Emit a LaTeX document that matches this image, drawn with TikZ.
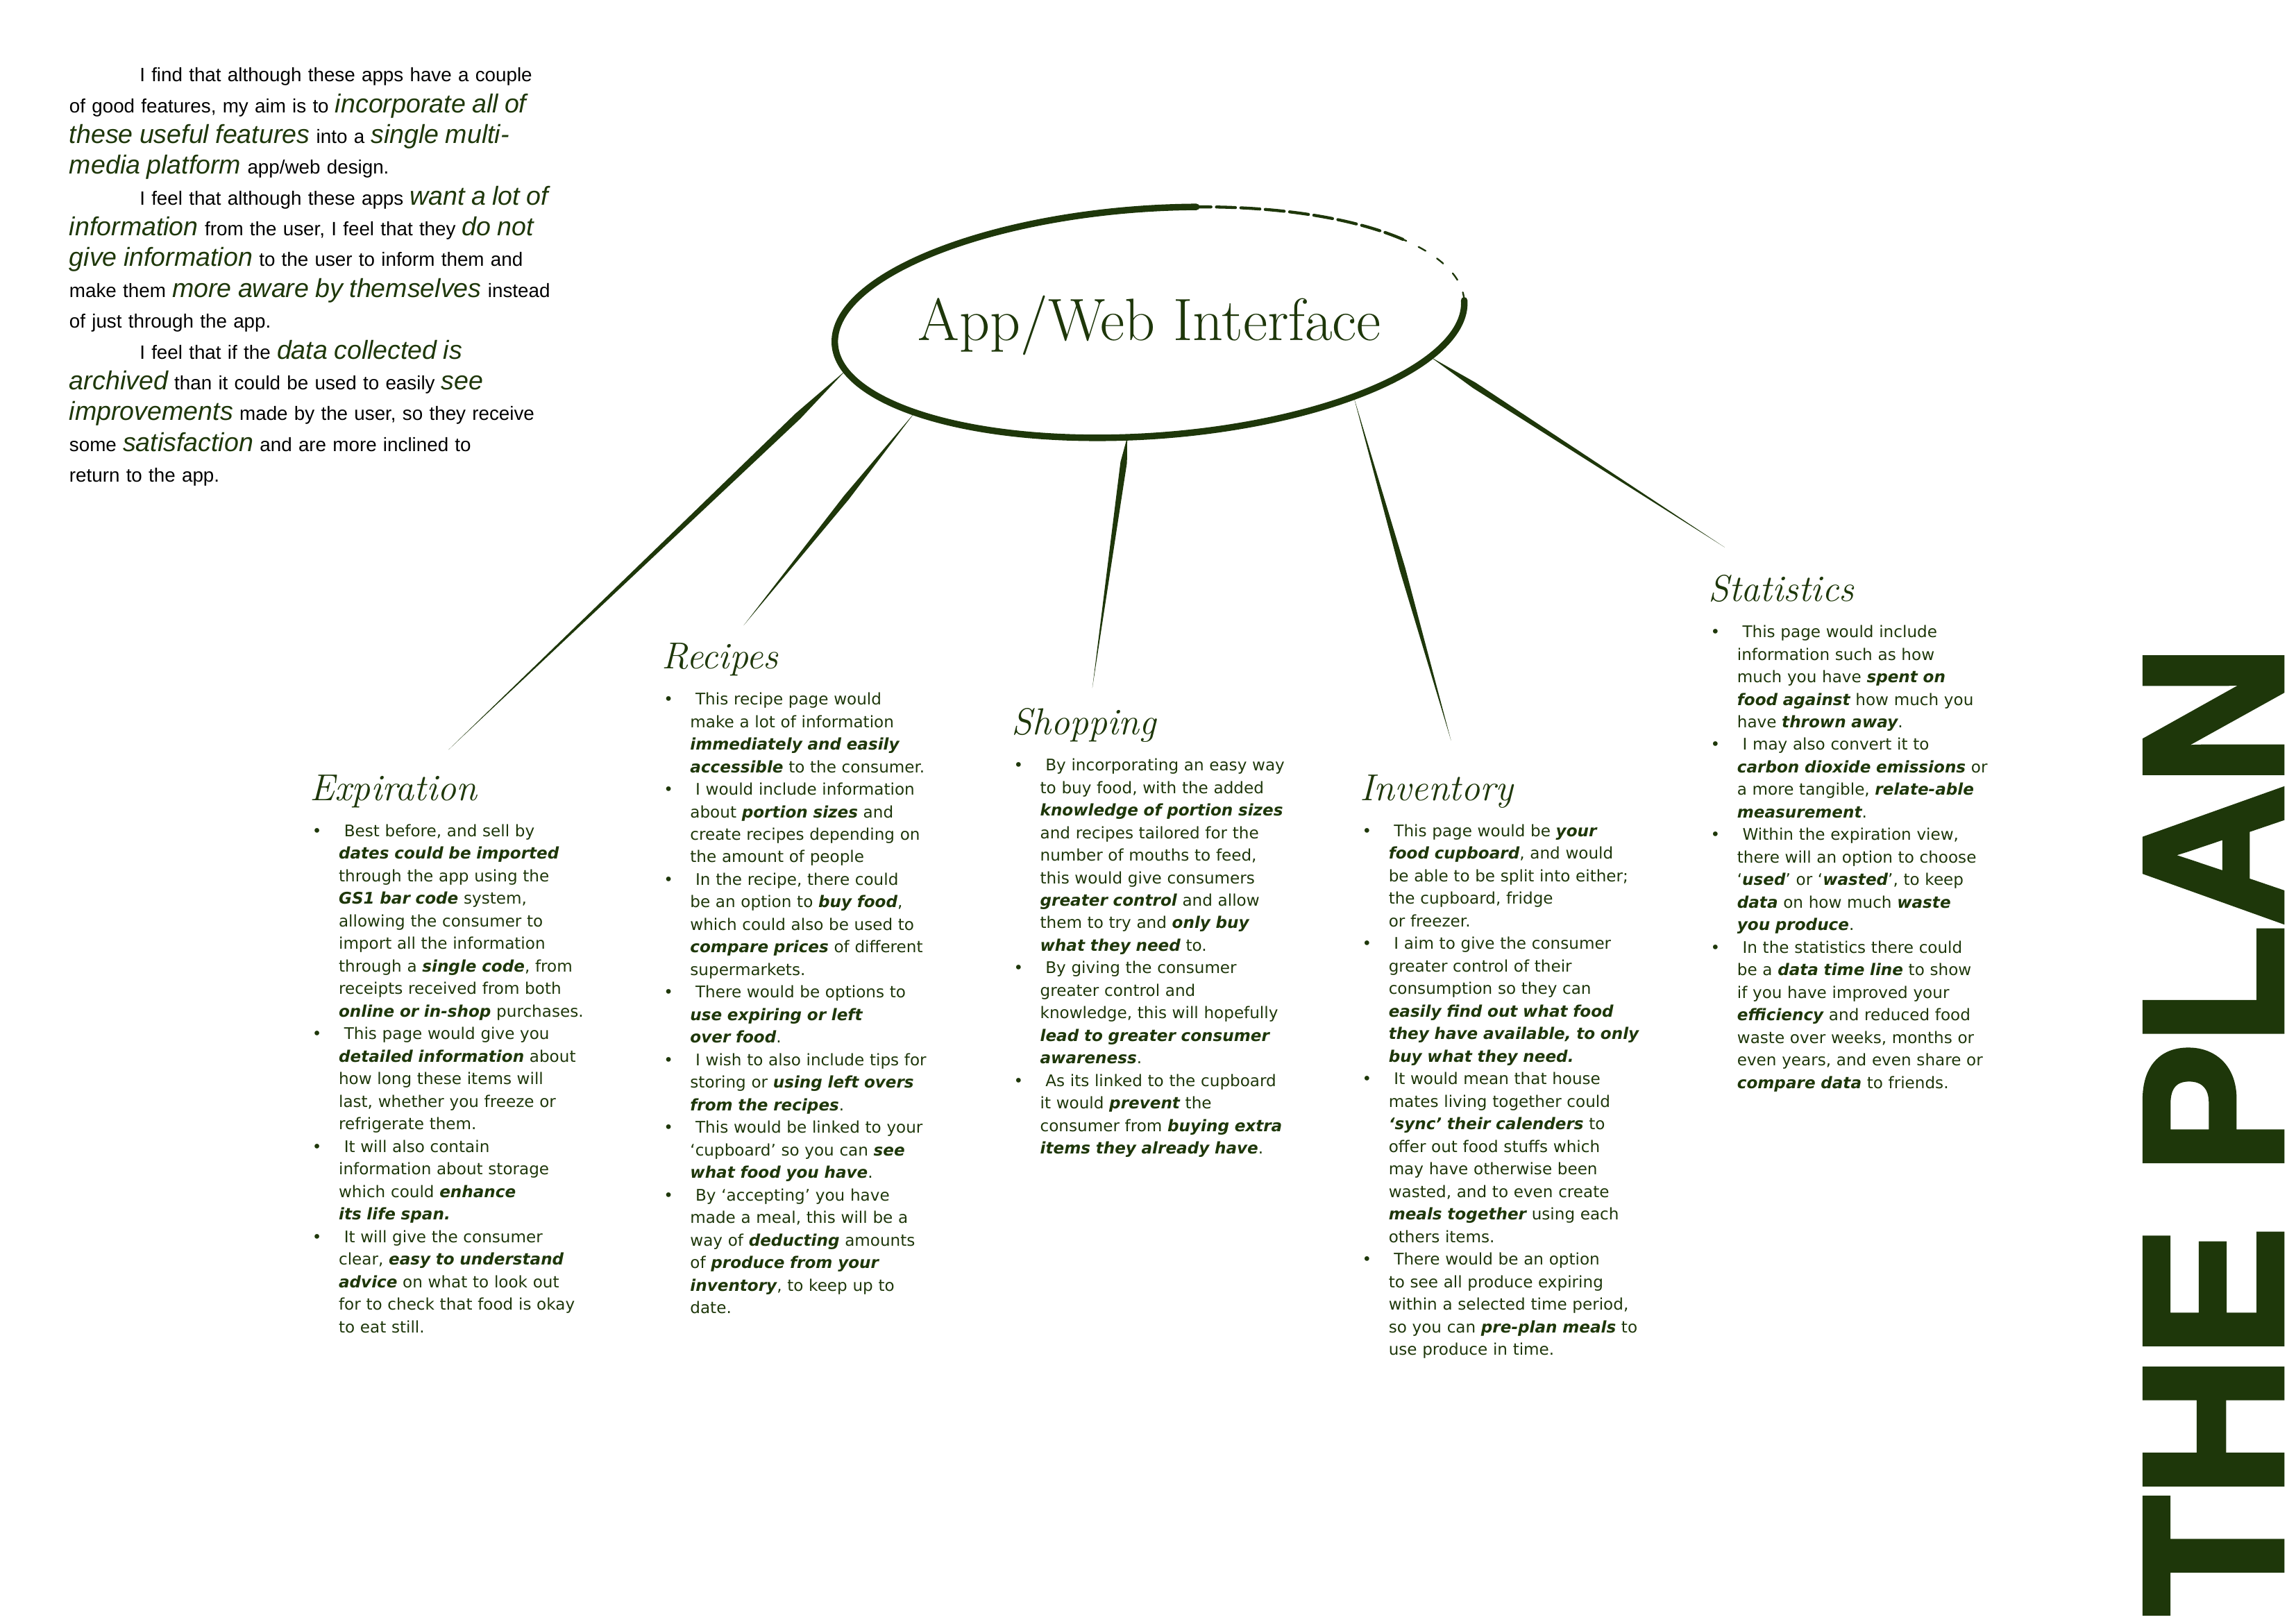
\documentclass[tikz,border=0pt]{standalone}
\usepackage{fontspec}
\usepackage{xcolor}
\usepackage{tikz}
\usetikzlibrary{shapes.geometric, positioning, calc}
\newfontfamily\notefont{Liberation Sans}
\newfontfamily\colfont{DejaVu Sans}
\newfontfamily\planfont[FakeBold=3]{Liberation Sans Bold}
\definecolor{plangreen}{RGB}{30,55,10}
\newcommand{\hi}[1]{{\fontsize{9.6}{11.33}\selectfont\itshape\color{plangreen}#1}}
\newcommand{\kw}[1]{{\bfseries\itshape #1}}
\newcommand{\bl}{\leavevmode\llap{\textbullet\hspace{0.22cm}}\ }
\newcommand{\spoke}[4]{\fill[plangreen] (#1) -- ($(#1)!#3!(#2)!#4!90:(#2)$) -- (#2) -- ($(#1)!#3!(#2)!#4!-90:(#2)$) -- cycle;}
\tikzstyle{introtxt} = [anchor=north west, inner sep=0, text width=7cm, align=left, font=\notefont\fontsize{7.1}{11.33}\selectfont]
\tikzstyle{colbody} = [anchor=north west, inner sep=0, text width=4cm, align=left, text=plangreen, font=\colfont\fontsize{5.9}{8.3}\selectfont]
\tikzstyle{colhead} = [inner sep=0, xshift=-0.37cm, text=plangreen, font=\fontsize{13.8}{16}\selectfont\itshape]
\tikzstyle{hubshape} = [ellipse, minimum width=8.16cm, minimum height=2.94cm, inner sep=0, outer sep=0]
\tikzstyle{hubtxt} = [inner sep=0, text=plangreen, font=\fontsize{22}{26}\selectfont]
\tikzstyle{hubedge} = [draw=plangreen, line width=2.4pt, line cap=round]
\tikzstyle{plantxt} = [inner sep=0, rotate=90, text=plangreen, font=\planfont]

\begin{document}
\begin{tikzpicture}

\useasboundingbox (0,0) rectangle (29.7,-21);

\node (intro) [introtxt] at (0.89,-0.87) {\hspace*{0.91cm}I find that although these apps have a couple\\
of good features, my aim is to \hi{incorporate all of}\\
\hi{these useful features} into a \hi{single multi-}\\
\hi{media platform} app/web design.\\
\hspace*{0.91cm}I feel that although these apps \hi{want a lot of}\\
\hi{information} from the user, I feel that they \hi{do not}\\
\hi{give information} to the user to inform them and\\
make them \hi{more aware by themselves} instead\\
of just through the app.\\
\hspace*{0.91cm}I feel that if the \hi{data collected is}\\
\hi{archived} than it could be used to easily \hi{see}\\
\hi{improvements} made by the user, so they receive\\
some \hi{satisfaction} and are more inclined to\\
return to the app.};

\coordinate (hubc) at (14.87,-4.17);
\node (hub) [hubshape, rotate=4] at (hubc) {};
\node (hubtext) [hubtxt, anchor=base, yshift=-0.23cm] at (hub.center) {App/Web Interface};

\begin{scope}[shift={(hubc)}, rotate=4]
\draw [hubedge] (80:4.08cm and 1.47cm) arc [start angle=80, end angle=360, x radius=4.08cm, y radius=1.47cm];
\draw [hubedge, line width=1.1pt, dash pattern=on 7pt off 2pt] (35:4.08cm and 1.47cm) arc [start angle=35, end angle=80, x radius=4.08cm, y radius=1.47cm];
\draw [hubedge, line width=0.6pt, dash pattern=on 3pt off 5pt] (0:4.08cm and 1.47cm) arc [start angle=0, end angle=35, x radius=4.08cm, y radius=1.47cm];
\end{scope}

\node (expbody) [colbody] at (4.375,-10.658) {\bl Best before, and sell by\\
\kw{dates could be imported}\\
through the app using the\\
\kw{GS1 bar code} system,\\
allowing the consumer to\\
import all the information\\
through a \kw{single code}, from\\
receipts received from both\\
\kw{online or in-shop} purchases.\\
\bl This page would give you\\
\kw{detailed information} about\\
how long these items will\\
last, whether you freeze or\\
refrigerate them.\\
\bl It will also contain\\
information about storage\\
which could \kw{enhance}\\
\kw{its life span.}\\
\bl It will give the consumer\\
clear, \kw{easy to understand}\\
\kw{advice} on what to look out\\
for to check that food is okay\\
to eat still.};
\node (exphead) [colhead, above=0.30cm of expbody.north west, anchor=base west] {Expiration};

\node (recbody) [colbody] at (8.921,-8.953) {\bl This recipe page would\\
make a lot of information\\
\kw{immediately and easily}\\
\kw{accessible} to the consumer.\\
\bl I would include information\\
about \kw{portion sizes} and\\
create recipes depending on\\
the amount of people\\
\bl In the recipe, there could\\
be an option to \kw{buy food},\\
which could also be used to\\
\kw{compare prices} of different\\
supermarkets.\\
\bl There would be options to\\
\kw{use expiring or left}\\
\kw{over food}.\\
\bl I wish to also include tips for\\
storing or \kw{using left overs}\\
\kw{from the recipes}.\\
\bl This would be linked to your\\
‘cupboard’ so you can \kw{see}\\
\kw{what food you have}.\\
\bl By ‘accepting’ you have\\
made a meal, this will be a\\
way of \kw{deducting} amounts\\
of \kw{produce from your}\\
\kw{inventory}, to keep up to\\
date.};
\node (rechead) [colhead, above=0.30cm of recbody.north west, anchor=base west] {Recipes};

\node (shopbody) [colbody] at (13.448,-9.806) {\bl By incorporating an easy way\\
to buy food, with the added\\
\kw{knowledge of portion sizes}\\
and recipes tailored for the\\
number of mouths to feed,\\
this would give consumers\\
\kw{greater control} and allow\\
them to try and \kw{only buy}\\
\kw{what they need} to.\\
\bl By giving the consumer\\
greater control and\\
knowledge, this will hopefully\\
\kw{lead to greater consumer}\\
\kw{awareness}.\\
\bl As its linked to the cupboard\\
it would \kw{prevent} the\\
consumer from \kw{buying extra}\\
\kw{items they already have}.};
\node (shophead) [colhead, above=0.30cm of shopbody.north west, anchor=base west] {Shopping};

\node (invbody) [colbody] at (17.956,-10.658) {\bl This page would be \kw{your}\\
\kw{food cupboard}, and would\\
be able to be split into either;\\
the cupboard, fridge\\
or freezer.\\
\bl I aim to give the consumer\\
greater control of their\\
consumption so they can\\
\kw{easily find out what food}\\
\kw{they have available, to only}\\
\kw{buy what they need.}\\
\bl It would mean that house\\
mates living together could\\
\kw{‘sync’ their calenders} to\\
offer out food stuffs which\\
may have otherwise been\\
wasted, and to even create\\
\kw{meals together} using each\\
others items.\\
\bl There would be an option\\
to see all produce expiring\\
within a selected time period,\\
so you can \kw{pre-plan meals} to\\
use produce in time.};
\node (invhead) [colhead, above=0.30cm of invbody.north west, anchor=base west] {Inventory};

\node (statbody) [colbody] at (22.464,-8.082) {\bl This page would include\\
information such as how\\
much you have \kw{spent on}\\
\kw{food against} how much you\\
have \kw{thrown away}.\\
\bl I may also convert it to\\
\kw{carbon dioxide emissions} or\\
a more tangible, \kw{relate-able}\\
\kw{measurement}.\\
\bl Within the expiration view,\\
there will an option to choose\\
‘\kw{used}’ or ‘\kw{wasted}’, to keep\\
\kw{data} on how much \kw{waste}\\
\kw{you produce}.\\
\bl In the statistics there could\\
be a \kw{data time line} to show\\
if you have improved your\\
\kw{efficiency} and reduced food\\
waste over weeks, months or\\
even years, and even share or\\
\kw{compare data} to friends.};
\node (stathead) [colhead, above=0.30cm of statbody.north west, anchor=base west] {Statistics};

\coordinate (exptip) at (5.80,-9.70);
\coordinate (rectip) at (9.62,-8.09);
\coordinate (shoptip) at (14.13,-8.90);
\coordinate (invtip) at (18.77,-9.58);
\coordinate (stattip) at (22.31,-7.08);

\spoke{hub.185}{exptip}{0.12}{1.3pt}
\spoke{hub.197}{rectip}{0.4}{1.1pt}
\spoke{hub.255}{shoptip}{0.1}{1.2pt}
\spoke{hub.336}{invtip}{0.5}{1.1pt}
\spoke{hub.349}{stattip}{0.15}{1.1pt}

\node (plan) [plantxt, anchor=south west] at (29.52,-20.9) {\resizebox{12.55cm}{1.76cm}{THE PLAN}};

\end{tikzpicture}
\end{document}
